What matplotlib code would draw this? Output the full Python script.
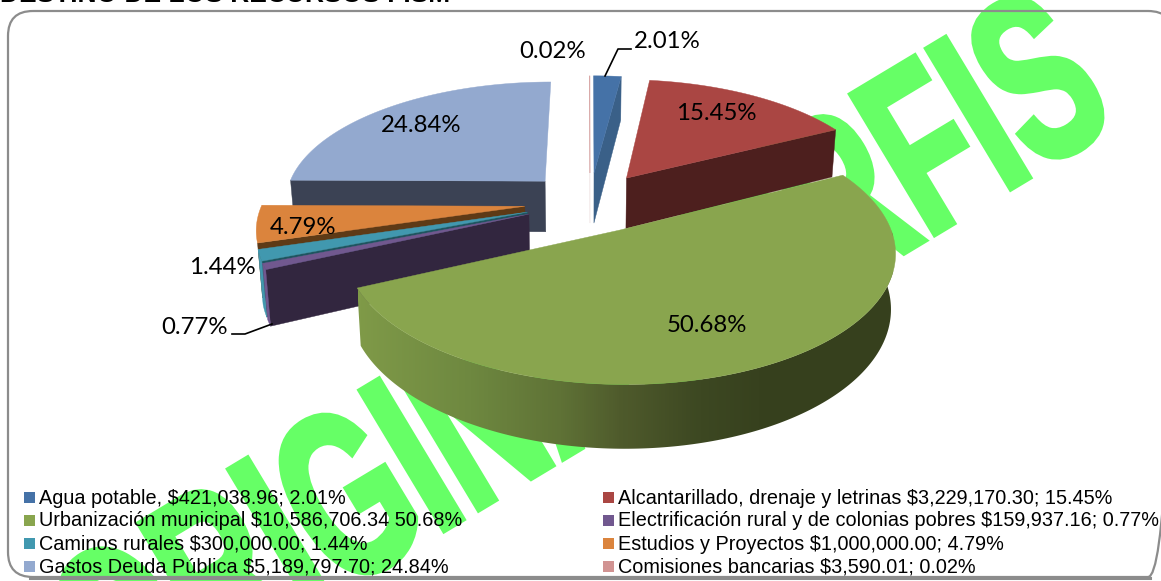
import numpy as np
import matplotlib
matplotlib.use('Agg')
import matplotlib.pyplot as plt
from matplotlib.patches import FancyBboxPatch, Rectangle, Polygon
from matplotlib.colors import LinearSegmentedColormap
from matplotlib.patheffects import AbstractPathEffect
from matplotlib.transforms import Affine2D

# datos
montos = [421038.96, 3229170.30, 10586706.34, 159937.16, 300000.00, 1000000.00, 5189797.70, 3590.01]
etiquetas = ['2.01%', '15.45%', '50.68%', '0.77%', '1.44%', '4.79%', '24.84%', '0.02%']
leyenda = ['Agua potable, $421,038.96; 2.01%',
           'Alcantarillado, drenaje y letrinas $3,229,170.30; 15.45%',
           'Urbanización municipal $10,586,706.34 50.68%',
           'Electrificación rural y de colonias pobres $159,937.16; 0.77%',
           'Caminos rurales $300,000.00; 1.44%',
           'Estudios y Proyectos $1,000,000.00; 4.79%',
           'Gastos Deuda Pública $5,189,797.70; 24.84%',
           'Comisiones bancarias $3,590.01; 0.02%']
titulo = 'DESTINO DE LOS RECURSOS FISM'

colores = ['#4572A7', '#AA4643', '#89A54E', '#71588F', '#4198AF', '#DB843D', '#93A9CF', '#D19392']
paredes = ['#3A6088', '#4D1F1E', '#36401D', '#32263F', '#1F5560', '#5E3A16', '#3B4254', '#EFE2E2']

# posicion de las etiquetas (centro, en pixeles)
pos_etiquetas = [(667, 41), (716, 113), (707, 325), (195, 327), (222, 268), (303, 228), (421, 125), (553, 52)]

cx, cy = 590, 202
R, r = 262, 120.6
k = 0.1556      # perspectiva
sep = 0.25      # separacion de las rebanadas
alto = 52
encoge = 0.985

fig = plt.figure(figsize=(11.61, 5.81), dpi=100)
ax = fig.add_axes([0, 0, 1, 1])


def proyecta(u, v):
    s = 1 / (1 - k * v)
    return cx + R * u * s, cy + r * v * s, s


def abajo(x, y, s):
    return cx + (x - cx) * encoge, y + alto * s


class Angosta(AbstractPathEffect):
    # letra angosta: no hay fuente condensada instalada
    def __init__(self, sx, grueso):
        super().__init__()
        self.sx = sx
        self.grueso = grueso

    def draw_path(self, renderer, gc, tpath, affine, rgbFace=None):
        gc0 = renderer.new_gc()
        gc0.copy_properties(gc)
        gc0.set_linewidth(self.grueso)
        gc0.set_foreground(rgbFace)
        gc0.set_joinstyle('miter')
        renderer.draw_path(gc0, tpath, Affine2D().scale(self.sx, 1) + affine, rgbFace)
        gc0.restore()


# titulo cortado arriba
ax.text(0, 7, titulo, fontsize=19, fontweight='bold', family='Liberation Sans', va='bottom', ha='left', zorder=1)

# marca de agua
verde = '#66FF66'
marca = dict(fontsize=170, fontweight='bold', family='Liberation Sans', color=verde, rotation=31,
             rotation_mode='anchor', ha='left', va='baseline', zorder=2, path_effects=[Angosta(0.615, 4.5)])
ax.text(118, 726, 'ORIGINAL', **marca)
ax.text(740, 351, 'ORFIS', **marca)

# marco
ax.add_patch(FancyBboxPatch((33, 36), 1115, 516, boxstyle='round,pad=25,rounding_size=25',
                            fc='none', ec='#8C8C8C', lw=1.6, zorder=3))
ax.plot([30, 1150], [578, 578], color='#8C8C8C', lw=2.2, zorder=3)

# pastel
fr = np.array(montos) / sum(montos)
fin = np.cumsum(fr) * 2 * np.pi
ini = fin - fr * 2 * np.pi
medio = (ini + fin) / 2

# degradado de la pared verde, segun x
paradas_x = [358, 470, 560, 620, 700, 760, 893]
paradas_c = ['#7F9A48', '#6E8840', '#5F7236', '#4F5B2C', '#3D4822', '#37411E', '#36401D']
grad = LinearSegmentedColormap.from_list('g', [((x - 358) / 535, c) for x, c in zip(paradas_x, paradas_c)])

# de atras hacia adelante
for i in np.argsort(-np.cos(medio)):
    du = sep * np.sin(medio[i])
    dv = -sep * np.cos(medio[i])
    t = np.linspace(ini[i], fin[i], 200)
    xs, ys, ss = proyecta(du + np.sin(t), dv - np.cos(t))
    ax_, ay_, as_ = proyecta(du, dv)
    z = 5

    # paredes rectas
    for borde, j in ((ini[i], 0), (fin[i], -1)):
        normal = borde - np.pi / 2 if j == 0 else borde + np.pi / 2
        if -np.cos(normal) > 0:
            bx1, by1 = abajo(ax_, ay_, as_)
            bx2, by2 = abajo(xs[j], ys[j], ss[j])
            ax.fill([ax_, xs[j], bx2, bx1], [ay_, ys[j], by2, by1], color=paredes[i], lw=0.3, zorder=z)

    # pared curva
    frente = np.cos(t) < 0
    if frente.any() and i != 5:     # la de estudios casi no se ve
        bx, by = abajo(xs[frente], ys[frente], ss[frente])
        pts = np.c_[np.r_[xs[frente], bx[::-1]], np.r_[ys[frente], by[::-1]]]
        if i == 2:
            tira = np.linspace(0, 1, 535).reshape(1, -1)
            im = ax.imshow(tira, cmap=grad, extent=(358, 893, 460, 150), aspect='auto', zorder=z)
            im.set_clip_path(Polygon(pts, transform=ax.transData))
        else:
            ax.fill(pts[:, 0], pts[:, 1], color=colores[i], lw=0.3, zorder=z)

    # tapa
    ax.fill(np.r_[ax_, xs], np.r_[ay_, ys], color=colores[i], lw=0.3, zorder=z)

# etiquetas del pastel
for e, (x, y) in zip(etiquetas, pos_etiquetas):
    ax.text(x, y, e, fontsize=17.3, family='Lato', ha='center', va='center', color='black', zorder=6)
ax.plot([605, 618, 631], [76, 49, 49], color='black', lw=1.2, zorder=6)
ax.plot([232, 245, 272], [334, 334, 324], color='black', lw=1.2, zorder=6)

# leyenda
filas = [497, 520, 543, 566]
for n in range(len(leyenda)):
    fila = filas[n // 2]
    x0 = 24 if n % 2 == 0 else 603
    ax.add_patch(Rectangle((x0, fila - 5), 11, 11, fc=colores[n], ec='none', zorder=6))
    ax.text(x0 + 15, fila + 6.5, leyenda[n], fontsize=14.35, family='Liberation Sans', ha='left', va='baseline', zorder=6)

ax.set_xlim(0, 1161)
ax.set_ylim(581, 0)
ax.axis('off')

fig.savefig('out.png', dpi=100)
